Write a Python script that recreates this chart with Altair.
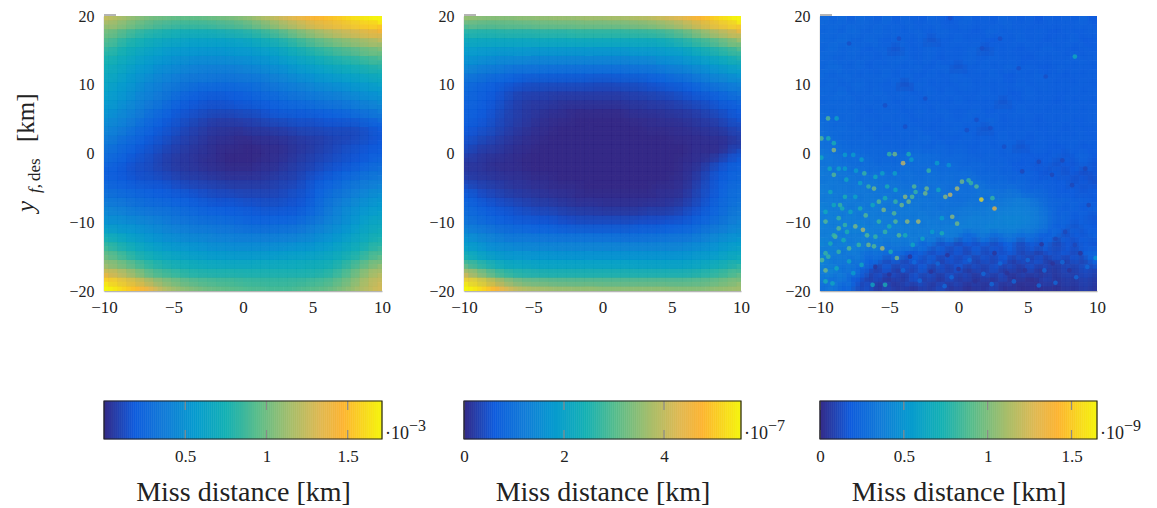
import altair as alt
import pandas as pd

FONT = "Liberation Serif"
X_TICKS = [-10, -5, 0, 5, 10]
Y_TICKS = [-20, -10, 0, 10, 20]
STOPS = [0, 11, 22, 33, 44, 55, 67, 78, 86, 100]
COLORS = ["#352a87", "#0f5cdd", "#127dd8", "#079ccf", "#15b1b4", "#59bd8c", "#a5be6b", "#e1b952", "#fdb532", "#f5f50e"]

# Miss distance as a percentage of each colour bar's full scale, rows from y=20 down to y=-20
GRID_1 = [
[72,69,66,63,61,59,58,57,56,56,56,57,58,59,60,62,64,67,70,73,76,79,82,85,87,89,91,94,96,98,100],
[62,59,56,53,51,49,47,46,45,45,45,45,46,47,48,49,51,53,56,59,62,65,68,71,74,76,78,80,83,85,86],
[56,52,49,46,44,42,41,40,39,38,38,38,38,38,39,40,41,43,45,47,50,53,56,59,61,64,66,68,70,72,74],
[51,47,44,42,40,38,36,35,34,33,33,33,33,33,34,34,35,37,38,40,42,45,47,50,52,54,56,58,60,62,63],
[46,43,41,38,36,34,33,31,30,30,29,29,29,29,30,30,31,32,33,35,37,39,41,43,45,47,49,50,52,54,55],
[43,40,38,35,33,31,29,28,27,26,25,25,25,25,25,26,27,28,29,30,32,34,36,37,39,41,42,44,45,47,48],
[40,38,35,32,30,28,26,25,23,22,22,21,21,21,21,22,22,23,25,26,28,29,31,32,34,35,37,38,39,41,42],
[38,35,33,30,27,25,23,22,20,19,18,18,17,17,17,18,18,19,21,22,23,25,26,28,29,30,31,33,34,35,37],
[36,33,31,28,25,23,21,19,17,15,14,13,13,13,13,14,15,16,17,18,20,21,22,23,24,25,26,28,29,31,32],
[34,31,29,26,23,21,19,16,14,12,11,10,10,10,11,11,12,13,14,15,16,17,18,19,20,21,22,23,25,26,28],
[31,29,26,24,21,18,16,13,11,10,9,8,8,8,8,9,9,10,11,12,13,13,14,15,15,16,17,18,20,21,23],
[29,26,24,21,18,15,13,11,9,8,7,6,5,5,5,6,6,7,8,9,9,10,10,10,11,11,12,13,14,16,18],
[26,23,21,18,15,13,11,9,8,6,5,4,3,3,3,3,4,4,5,5,6,7,7,7,8,8,8,8,9,10,12],
[23,20,18,15,13,11,9,8,6,5,4,3,2,2,1,1,2,2,2,3,3,4,5,5,5,6,6,6,7,8,10],
[20,17,15,13,11,9,8,6,5,4,3,2,1,1,1,0,0,1,1,1,2,3,3,4,5,6,7,8,9,10,11],
[17,15,13,11,9,8,6,5,4,3,2,2,1,0,0,0,0,0,1,1,2,3,4,5,6,7,8,9,10,11,12],
[15,13,11,9,8,7,5,4,3,3,2,1,1,0,0,0,0,1,1,2,3,4,5,6,7,8,9,10,11,13,15],
[12,11,10,8,8,7,6,5,4,3,3,2,2,1,1,1,1,2,2,3,4,5,6,7,9,10,12,13,15,17,18],
[13,12,11,10,9,9,8,7,6,5,5,4,4,3,3,3,3,3,4,5,5,6,8,10,12,13,15,17,19,20,22],
[16,15,14,13,12,11,11,10,9,8,7,7,6,6,5,5,5,5,5,6,7,8,9,12,14,16,18,20,22,24,26],
[19,18,17,16,15,14,13,12,12,11,10,9,8,8,8,7,7,7,7,7,8,9,10,13,16,19,21,23,26,28,30],
[23,22,21,19,18,17,17,16,15,14,13,12,11,11,11,10,10,9,9,9,10,10,12,15,18,21,24,27,29,31,33],
[27,26,24,23,22,21,20,19,18,17,16,15,15,14,13,13,12,12,12,12,12,13,15,17,20,23,26,29,32,34,36],
[31,30,29,28,27,25,24,22,21,20,19,19,18,18,17,16,15,15,15,16,16,17,19,21,23,26,28,31,34,37,39],
[38,36,34,32,30,29,27,26,25,24,23,23,22,22,21,20,20,20,20,20,21,22,23,25,27,29,31,34,37,39,42],
[46,43,40,37,35,33,31,30,29,28,28,27,26,26,25,25,25,25,25,26,26,27,28,29,31,33,35,38,40,43,46],
[53,49,46,43,40,38,36,35,34,33,32,31,31,31,30,30,30,30,31,31,32,33,33,34,35,37,39,42,44,48,51],
[60,57,53,49,46,44,42,40,39,38,37,36,36,35,35,35,35,36,36,37,37,38,38,39,40,41,44,47,50,54,58],
[68,65,62,58,54,50,48,46,45,44,43,42,42,42,42,42,42,42,42,42,42,42,43,43,44,46,49,53,58,62,66],
[84,79,74,69,63,58,56,54,52,50,49,49,48,48,48,47,47,47,47,47,47,47,47,48,49,51,54,58,63,68,72],
[100,96,92,88,83,77,71,67,64,62,60,58,57,56,55,54,53,53,52,52,52,53,54,55,56,58,61,64,68,71,75],
]
GRID_2 = [
[64,63,62,62,62,62,63,63,64,64,65,65,65,66,66,66,67,67,68,69,70,72,74,76,78,82,85,89,93,96,100],
[50,49,49,49,50,50,50,50,51,51,51,51,52,52,52,52,52,52,53,53,54,55,57,59,62,65,69,73,77,80,83],
[42,41,41,41,41,41,41,41,42,42,42,42,43,43,43,43,43,43,43,43,43,44,45,47,49,52,55,58,61,64,68],
[36,36,35,35,35,35,35,35,35,35,35,35,35,35,35,35,35,35,35,36,36,36,37,38,40,42,45,47,50,53,56],
[32,31,30,29,29,29,29,28,28,28,28,28,28,28,28,28,28,28,29,29,29,30,31,32,33,35,37,39,42,44,47],
[28,26,25,24,23,22,22,21,21,21,21,21,21,21,21,21,21,21,21,22,22,23,25,26,27,29,30,33,35,37,39],
[22,20,19,18,17,16,15,15,15,14,14,14,14,14,14,14,14,14,15,15,16,17,18,19,20,22,24,26,28,30,32],
[17,15,14,13,12,11,10,9,9,9,9,9,9,9,8,8,8,9,9,9,10,11,12,13,14,16,18,20,22,23,25],
[15,13,12,11,9,7,6,6,6,5,5,5,5,5,5,5,5,5,6,6,7,7,8,9,10,11,13,14,16,18,20],
[14,13,11,10,8,6,5,4,4,4,3,3,3,3,3,3,3,3,4,4,4,5,5,6,7,8,9,10,12,13,15],
[13,12,11,9,7,5,4,3,3,2,2,1,1,1,1,1,1,1,2,2,3,3,3,4,4,5,6,7,9,10,12],
[13,11,10,8,6,5,4,3,2,1,1,1,0,0,0,0,0,0,1,1,1,1,2,2,3,3,4,5,6,8,10],
[11,10,9,7,6,4,3,2,1,1,0,0,0,0,0,0,0,0,0,0,1,1,1,1,1,2,3,3,4,6,7],
[10,8,7,6,4,3,2,1,1,0,0,0,0,0,0,0,0,0,0,0,0,0,0,1,1,1,1,2,2,3,5],
[8,6,5,4,3,2,1,1,0,0,0,0,0,0,0,0,0,0,0,0,0,0,0,0,0,1,1,1,1,2,4],
[6,4,3,3,2,1,1,0,0,0,0,0,0,0,0,0,0,0,0,0,0,0,0,0,0,1,1,1,2,5,9],
[3,3,2,1,1,1,0,0,0,0,0,0,0,0,0,0,0,0,0,0,0,0,0,0,1,1,2,4,7,10,12],
[3,3,2,2,1,1,1,0,0,0,0,0,0,0,0,0,0,0,0,0,0,0,0,0,1,2,4,7,10,12,14],
[5,4,4,3,3,2,2,1,1,1,0,0,0,0,0,0,0,0,0,0,0,0,0,1,1,3,5,8,11,13,15],
[9,7,6,5,4,3,3,2,2,1,1,1,1,0,0,0,0,0,0,0,0,1,1,1,2,4,7,9,12,15,17],
[12,10,8,7,6,5,4,4,3,3,2,2,1,1,1,1,1,1,1,1,1,1,2,2,3,5,7,10,13,16,18],
[15,13,11,10,9,8,7,6,5,5,4,4,3,3,3,2,2,2,2,2,3,3,3,4,5,7,9,12,15,17,20],
[17,15,14,12,11,10,9,9,8,8,7,6,6,5,5,5,5,5,5,5,6,6,6,7,8,10,12,14,16,19,22],
[20,18,17,15,14,13,12,12,11,11,10,10,9,9,9,9,9,9,9,10,10,10,11,11,12,13,15,17,19,22,25],
[26,24,22,21,19,18,18,17,17,17,16,16,16,16,15,15,15,15,15,15,16,16,16,17,17,18,20,22,24,26,28],
[32,29,27,25,24,23,23,23,22,22,22,22,22,22,22,22,22,21,21,21,21,22,22,22,22,24,25,27,29,31,33],
[37,34,32,30,29,29,28,28,28,28,27,27,27,27,27,27,27,27,27,27,27,27,27,27,28,29,30,31,33,35,37],
[46,42,39,37,35,34,34,33,33,33,33,33,33,33,33,33,33,33,33,33,33,33,33,33,33,34,35,36,38,40,42],
[60,54,50,46,44,42,41,41,40,40,40,40,40,40,40,40,40,40,40,39,39,39,39,39,39,40,41,43,45,47,50],
[78,72,66,60,55,52,50,49,49,48,48,48,48,48,48,48,48,48,48,48,48,48,48,48,48,49,50,51,53,55,58],
[100,96,91,85,78,73,70,68,67,66,65,65,64,64,64,63,63,63,63,63,63,63,63,62,62,62,62,63,64,65,66],
]
GRID_3 = [
[15,14,15,13,15,14,13,15,12,14,13,12,14,13,11,13,14,12,13,12,14,13,12,13,11,13,12,13,12,14,11],
[14,15,13,16,14,13,15,13,14,12,14,13,12,14,13,12,13,11,13,14,12,13,13,12,13,12,11,13,12,12,13],
[15,14,16,14,13,15,14,12,14,13,12,14,9,13,12,14,12,13,12,11,13,12,14,12,13,11,13,12,14,11,12],
[14,16,13,15,14,12,14,13,9,14,12,13,14,12,13,12,13,14,9,13,12,13,11,13,12,14,12,13,11,13,12],
[15,14,13,15,13,14,12,14,13,15,12,13,14,11,13,12,14,13,12,14,12,13,12,11,13,12,13,12,14,12,13],
[14,16,14,13,15,12,14,13,14,12,14,13,12,14,13,9,13,12,14,12,13,14,12,13,12,11,13,13,12,13,12],
[15,13,15,14,13,14,13,15,12,14,13,12,14,12,13,14,12,13,12,14,12,11,13,12,14,12,13,11,13,12,13],
[14,15,13,14,15,13,14,12,14,8,13,14,12,13,12,13,14,12,13,12,13,12,14,12,13,13,12,13,12,13,12],
[15,14,16,13,14,13,15,13,13,14,12,13,14,12,14,12,13,12,14,12,13,11,12,14,12,13,12,12,13,12,13],
[14,15,14,15,13,14,13,14,12,13,14,12,13,13,12,14,12,13,12,13,9,13,12,13,12,13,11,13,12,13,12],
[15,14,15,14,14,12,14,13,14,12,13,14,12,14,13,12,13,14,12,12,13,12,14,12,13,12,13,12,13,12,13],
[16,15,14,15,13,14,13,14,13,14,12,13,13,12,14,12,14,12,13,14,11,13,12,13,11,13,12,13,12,12,13],
[17,15,16,14,15,13,14,12,14,13,14,13,12,13,13,14,12,13,9,13,12,13,12,13,12,12,13,11,13,12,12],
[18,16,15,15,14,15,13,14,13,14,13,15,14,12,13,12,14,12,13,12,14,12,13,11,13,12,12,13,12,13,12],
[18,17,16,15,15,14,15,14,14,13,15,14,13,15,13,14,13,12,14,12,13,13,9,12,13,12,11,12,13,11,12],
[20,18,17,16,17,15,15,14,15,16,17,16,16,15,14,15,14,13,13,14,12,13,12,11,12,11,13,10,12,14,11],
[19,19,18,17,16,17,15,16,15,17,16,17,16,15,16,15,14,15,14,13,14,12,11,12,10,12,9,11,10,13,10],
[21,19,20,18,19,17,18,17,16,18,17,16,18,16,17,16,17,15,14,15,13,14,12,13,11,10,12,9,11,8,10],
[20,21,19,20,18,20,19,18,19,17,18,17,19,17,18,16,17,18,16,15,16,14,15,13,12,13,11,12,9,11,9],
[22,20,21,19,21,19,20,18,20,19,19,18,18,19,17,18,17,18,19,18,17,19,16,14,15,13,12,11,12,10,11],
[21,22,20,22,19,21,20,21,19,20,19,20,18,19,18,17,18,19,18,19,20,21,22,20,17,15,13,14,12,13,11],
[23,21,22,20,22,20,22,19,21,20,21,19,20,18,19,19,21,20,21,22,22,23,23,22,20,16,14,12,14,11,13],
[22,23,21,23,20,22,21,22,20,21,20,22,20,21,19,21,22,23,22,23,24,24,24,23,21,18,13,15,11,13,10],
[23,21,23,22,24,21,23,21,23,21,22,20,22,21,22,22,23,22,23,24,23,24,23,22,20,17,12,14,9,13,11],
[22,23,20,22,21,23,21,22,21,22,21,22,20,21,22,20,14,18,21,15,19,20,16,18,14,12,15,8,12,10,13],
[24,20,23,21,23,20,22,18,21,19,22,13,19,8,14,6,12,8,13,7,11,14,6,12,9,13,5,11,8,12,10],
[21,23,19,22,20,16,19,14,17,13,10,14,7,12,6,11,5,13,6,10,8,12,5,9,4,10,7,11,6,12,14],
[24,19,21,17,20,12,15,6,13,5,11,7,13,4,10,6,12,4,9,5,11,3,8,5,10,3,7,4,9,5,13],
[22,24,17,20,14,9,4,11,3,8,5,12,3,9,4,10,2,7,4,9,3,6,2,8,2,5,3,7,4,8,6],
[20,17,21,13,10,4,8,2,6,3,10,4,7,2,8,3,6,2,5,2,7,1,4,1,3,6,2,5,3,6,4],
[17,21,13,16,6,9,2,7,3,5,2,6,3,8,2,5,1,4,2,6,1,3,1,2,1,3,1,4,2,5,3],
]
# Specks in the third panel: x, y, percentage of full scale
SPOT_X = [-9.42,-8.8,-9.9,-9.4,-9.0,-9,-9.9,-8.2,-7.6,-7,-5,-4.6,-4,-3.6,-3.4,-9.3,-8.65,-8.2,-9,-7.4,-6.8,-8.1,-7.1,-6,-5.5,-4.6,-2.15,-1.55,-0.7,0.25,0.73,0.9,1.3,-0.1,-0.6,-0.95,1.65,2.45,2.6,-2.3,-2.4,-1.45,-3.2,-3.1,-3.85,-3.6,-3.35,-6.5,-6.1,-5.15,-4.55,-8.2,-8.55,-9.25,-5.75,-5.4,-6.7,-7.45,-6.9,-6.6,-4.65,-4.1,-3.7,-2.9,-4.55,-5,-0.45,-0.1,-8.65,-8.05,-8.9,-9.6,-5.5,-6.5,-7.9,-4.45,-6,-4.3,-9.6,-9.85,-9.4,-8.65,-5.3,-7,-9.1,8.4,-1.2,9.9,
          -8.4,-8.65,-7.8,-7.1,-8.2,-9,-9.25,-9.6,-8.3,-7.2,-6.1,-4.9,-3.85,-2.6,-3.3,-5.75,-5.3,-1.9,-1.2,-7.9,-8.8,-7.6,-6.2,-9.6,-4.55,-5.3,-6.2,-7.45,-9,-9.6,
          -7.9,-4.3,-0.6,1.7,3,-5.3,-2.4,-3.85,1.3,0.6,2.3,3.3,4.35,6.3,7.5,9.15,5.8,6.75,4.6,8.2,9.4,7,8.4,7.7,
          -4,-2.8,-1.5,-0.5,0.8,1.8,3,4,5,6.2,7.5,8.5,9.3,-3.2,2.4,5.8,7,-1,
          -3.5,-2,0,1.2,3.5,4.8,6.8,8,-5,-6,-0.8,2.6,6,8.8]
SPOT_Y = [5.1,5.1,2.2,2.2,1.5,0.5,-0.6,-0.2,-0.2,-0.9,-0.1,-0.1,-1.4,-0.1,-0.9,-2.2,-2.2,-2.2,-3.1,-2.5,-2.9,-3.8,-4.3,-3.4,-2.9,-2.9,-2.5,-1.4,-1.7,-4.1,-3.9,-4.3,-4.8,-5.1,-6,-6.3,-6.7,-6.5,-8,-5.1,-5.8,-5.3,-4.8,-5.6,-6.3,-7,-6.3,-4.8,-5.1,-4.8,-5.3,-6.3,-7.5,-5.6,-7,-8.2,-9,-10.6,-11.1,-11.9,-8.7,-7.5,-9.9,-9.9,-9.9,-10.6,-9.2,-10.2,-10.9,-11.4,-12.1,-9.9,-13.8,-13.3,-13.8,-15.2,-12.1,-11.9,-17,-15.5,-15,-14.3,-19.1,-16.2,-18.9,14.1,-11.6,-15.2,
          -8,-9.4,-8.5,-8,-10.4,-11.9,-13.1,-14.5,-12.6,-13.3,-13.5,-14.3,-11.9,-12.4,-13.3,-9.9,-11.4,-11.4,-9.4,-15.7,-16.7,-17.4,-19.1,-18.6,-7,-6.5,-7.5,-6.3,-7.5,-8.5,
          16,16.7,19.7,15.3,16.7,7,8,3.9,4.9,3.4,3.7,1,12.4,11.2,-1,-2.2,-1.2,-3.1,-2.6,-4.6,-7.5,-12.4,-13.3,-11.4,
          -17,-18.5,-16,-18,-15.5,-17.5,-16,-18.6,-15.5,-17,-15.8,-18,-16.5,-15.8,-19,-19.2,-18.8,-19.3,
          -15,-17.2,-16.8,-18.6,-17.4,-17,-16,-17,-17.6,-16.5,-14.8,-14.5,-13.2,-14.5]
SPOT_V = [55,38,55,45,45,65,40,35,35,35,50,60,75,45,35,40,38,35,55,35,50,40,38,42,38,38,50,35,30,60,50,50,55,70,75,65,95,50,85,60,60,40,55,50,65,60,55,50,60,45,40,45,50,42,55,62,55,62,70,55,55,60,65,70,55,45,65,60,55,45,55,55,70,60,55,62,50,55,60,55,50,50,45,40,40,42,45,32,
          45,50,40,45,50,50,45,50,45,50,55,45,45,40,40,50,50,35,35,40,42,35,40,45,50,45,42,38,42,42,
          8,8,8,8,8,8,8,8,8,8,8,8,8,8,6,6,6,6,6,6,6,6,6,6,
          16,16,16,16,16,16,16,16,16,16,16,16,16,16,16,16,16,16,
          2,2,2,2,2,2,2,2,2,2,2,2,2,2]

BAR_MAX = [1.711, 5.54, 1.652]
BAR_TICKS = [[0.5, 1, 1.5], [0, 2, 4], [0, 0.5, 1, 1.5]]
BAR_EXP = ["\u22123", "\u22127", "\u22129"]
WIDTHS = [278, 277, 277]
GAPS = [82, 79]
PANEL_H = 275
BAR_H = 38
# Half-cell shifted translucent copies soften the blocks of the grid: x sign, y sign, opacity
SOFT_FULL = [(-1, -1, 1 / 2), (1, 1, 1 / 3), (-1, 1, 1 / 4), (1, -1, 1 / 5)]
SOFT_LIGHT = [(1, 1, 1 / 2), (-1, 1, 1 / 3)]

color_scale = alt.Scale(domain=STOPS, range=COLORS, interpolate="rgb")


def grid_frame(grid):
    rows = []
    n_rows = len(grid)
    for r, row in enumerate(grid):
        n_cols = len(row)
        for c, v in enumerate(row):
            rows.append({
                "x0": -10 + 20 * c / n_cols, "x1": -10 + 20 * (c + 1) / n_cols,
                "y1": 20 - 40 * r / n_rows, "y0": 20 - 40 * (r + 1) / n_rows, "v": v,
            })
    return pd.DataFrame(rows)


ONE = pd.DataFrame({"a": [0]})


def note(text, x, y, size, style="normal", angle=0):
    return alt.Chart(ONE).mark_text(
        text=text, font=FONT, fontSize=size, fontStyle=style, angle=angle,
        align="left", baseline="alphabetic", color="#222",
    ).encode(x=alt.value(x), y=alt.value(y))


def spacer(width, height):
    return alt.Chart(ONE).mark_point(opacity=0).encode(x=alt.value(0), y=alt.value(0)).properties(
        width=width, height=height, view=alt.ViewBackground(stroke=None))


def panel(grid, width, show_y_title=False, spots=None, soft=SOFT_FULL):
    x_axis = alt.Axis(values=X_TICKS, title=None, ticks=False, grid=False, domainColor="#b5b5b5", domainWidth=1.5,
                      labelFont=FONT, labelFontSize=17, labelColor="#222", labelPadding=8, labelFlush=False, labelOverlap=False)
    y_axis = alt.Axis(values=Y_TICKS, title=None, ticks=False, grid=False, domainColor="#b5b5b5", domainWidth=1.5,
                      labelFont=FONT, labelFontSize=16, labelColor="#222", labelPadding=10, labelFlush=False, labelOverlap=False)
    xs = alt.Scale(domain=[-10, 10], nice=False)
    ys = alt.Scale(domain=[-20, 20], nice=False)
    frame = grid_frame(grid)

    def cells(**mark):
        return alt.Chart(frame).mark_rect(clip=True, **mark).encode(
            x=alt.X("x0:Q", scale=xs, axis=x_axis),
            x2="x1:Q",
            y=alt.Y("y0:Q", scale=ys, axis=y_axis),
            y2="y1:Q",
            color=alt.Color("v:Q", scale=color_scale, legend=None),
        )

    dx = width / len(grid[0]) / 2
    dy = PANEL_H / len(grid) / 2
    layers = [cells(strokeWidth=0.6, stroke=None).encode(stroke=alt.Stroke("v:Q", scale=color_scale, legend=None))]
    for sx, sy, alpha in soft:
        layers.append(cells(opacity=alpha, xOffset=sx * dx, x2Offset=sx * dx, yOffset=sy * dy, y2Offset=sy * dy))
    if spots is not None:
        layers.append(alt.Chart(spots).mark_circle(size=22, opacity=0.75, clip=True).encode(
            x=alt.X("x:Q", scale=xs, axis=x_axis),
            y=alt.Y("y:Q", scale=ys, axis=y_axis),
            color=alt.Color("v:Q", scale=color_scale, legend=None),
        ))
    layers.append(alt.Chart(ONE).mark_rule(color="#b5b5b5", strokeWidth=2).encode(
        x=alt.value(0), x2=alt.value(12), y=alt.value(-1)))
    if show_y_title:
        layers += [
            note("y", -70, 196, 25, "italic", 270),
            note("f,", -64, 177, 17, "italic", 270),
            note("des", -64, 165, 17, "normal", 270),
            note("[km]", -70, 126, 25, "normal", 270),
        ]
    return alt.layer(*layers).resolve_scale(color="shared", stroke="shared").properties(
        width=width, height=PANEL_H, view=alt.ViewBackground(stroke=None))


def bar(full, ticks, exp, width):
    n = 140
    cells = pd.DataFrame({
        "x0": [full * i / n for i in range(n)],
        "x1": [full * (i + 1) / n for i in range(n)],
        "v": [100 * (i + 0.5) / n for i in range(n)],
    })
    scale = alt.Scale(domain=[0, full], nice=False)
    axis = alt.Axis(values=ticks, format="~g", title="Miss distance [km]", titleFont=FONT, titleFontSize=28,
                    titleFontWeight="normal", titleColor="#222", titlePadding=14, ticks=False, grid=False, domain=False,
                    labelFont=FONT, labelFontSize=17, labelColor="#222", labelPadding=9, labelFlush=False, labelOverlap=False)
    body = alt.Chart(cells).mark_rect(strokeWidth=0.6).encode(
        x=alt.X("x0:Q", scale=scale, axis=axis),
        x2="x1:Q",
        color=alt.Color("v:Q", scale=color_scale, legend=None),
        stroke=alt.Stroke("v:Q", scale=color_scale, legend=None),
    )
    tick_frame = pd.DataFrame({"t": ticks})
    top = alt.Chart(tick_frame).mark_rule(color="#8a8a8a", strokeWidth=1.2).encode(
        x=alt.X("t:Q", scale=scale, axis=axis), y=alt.value(0), y2=alt.value(9))
    bottom = alt.Chart(tick_frame).mark_rule(color="#8a8a8a", strokeWidth=1.2).encode(
        x=alt.X("t:Q", scale=scale, axis=axis), y=alt.value(BAR_H - 9), y2=alt.value(BAR_H))
    frame = alt.Chart(ONE).mark_rect(fill=None, stroke="#222", strokeWidth=1.2).encode(
        x=alt.value(0), x2=alt.value(width), y=alt.value(0), y2=alt.value(BAR_H))
    return alt.layer(
        body, top, bottom, frame,
        note("\u00b710", width + 3, 38, 18),
        note(exp, width + 27, 30, 16),
    ).resolve_scale(color="shared", stroke="shared").properties(
        width=width, height=BAR_H, view=alt.ViewBackground(stroke=None))


spots = pd.DataFrame({"x": SPOT_X, "y": SPOT_Y, "v": SPOT_V})
chart = alt.concat(
    panel(GRID_1, WIDTHS[0], True), spacer(GAPS[0], 10), panel(GRID_2, WIDTHS[1]), spacer(GAPS[1], 10),
    panel(GRID_3, WIDTHS[2], spots=spots, soft=SOFT_LIGHT),
    bar(BAR_MAX[0], BAR_TICKS[0], BAR_EXP[0], WIDTHS[0]), spacer(GAPS[0], 10),
    bar(BAR_MAX[1], BAR_TICKS[1], BAR_EXP[1], WIDTHS[1]), spacer(GAPS[1], 10),
    bar(BAR_MAX[2], BAR_TICKS[2], BAR_EXP[2], WIDTHS[2]),
    columns=5, spacing={"row": 110, "column": 0}, bounds="flush", align="each",
).properties(
    autosize=alt.AutoSizeParams(type="none"),
    padding={"left": 96, "top": 8, "right": 1045, "bottom": 491},
).configure_view(strokeWidth=0)

chart.save("out.html", embed_options={"renderer": "svg", "actions": False})
